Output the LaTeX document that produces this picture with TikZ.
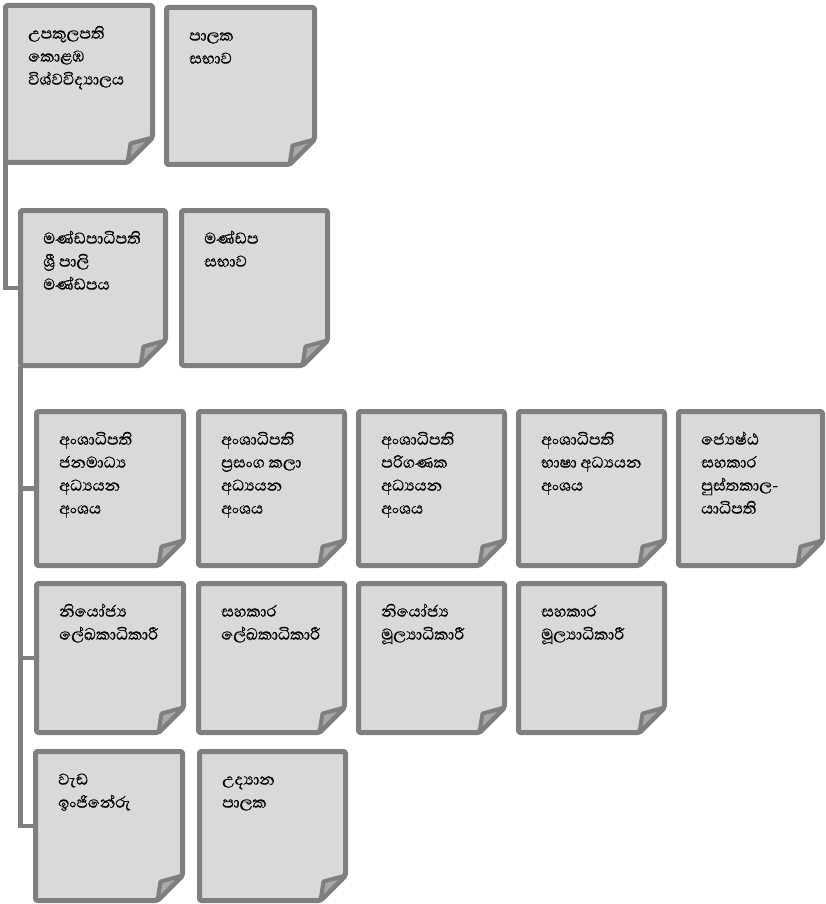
\documentclass[tikz,border=0pt]{standalone}
\usepackage{fontspec}
\newfontfamily\sinhalafont[Script=Sinhala, FakeBold=0.6]{Abhaya Libre}
\usetikzlibrary{backgrounds}
\definecolor{cardfill}{HTML}{D9D9D9}
\definecolor{cardedge}{HTML}{7F7F7F}
\definecolor{foldfill}{HTML}{A8A8A8}
\tikzset{
  cardnode/.style={inner sep=0pt, outer sep=0pt, anchor=north west, draw=none},
  cardshape/.style={fill=cardfill, draw=cardedge, line width=5pt, rounded corners=2pt, line join=round},
  foldshape/.style={fill=foldfill, draw=cardedge, line width=4pt, line join=round},
  cardtext/.style={inner sep=0pt, anchor=north west, align=left, font=\sinhalafont\fontsize{20}{23}\selectfont},
  conn/.style={draw=cardedge, line width=4.5pt},
}
\newcommand\card[6]{%
  \node[cardnode, minimum width=#4pt, minimum height=#5pt] (#1) at (#2,#3) {};
  \path[cardshape] (#1.north west) -- (#1.north east) -- ([yshift=25pt]#1.south east) -- ([xshift=-25pt]#1.south east) -- (#1.south west) -- cycle;
  \path[foldshape] ([yshift=25pt]#1.south east) -- ([shift={(-22pt,19pt)}]#1.south east) .. controls ([shift={(-24pt,10pt)}]#1.south east) .. ([xshift=-25pt]#1.south east) -- cycle;
  \node[cardtext] (#1-t) at ([shift={(22.5pt,-13pt)}]#1.north west) {\rule{0pt}{20pt}#6};
}
\begin{document}
\begin{tikzpicture}[x=1pt, y=-1pt]
\useasboundingbox (0,0) rectangle (826,904);
% row 0
\card{A}{5.5}{5.5}{147}{157}{උපකුලපති\\කොළඹ\\විශ්වවිද්^^^^200dයාලය}
\card{B}{166.5}{7.5}{148}{157}{පාලක\\සභාව}
% row 1
\card{C}{20.5}{210.5}{145}{155}{මණ්ඩපාධිපති\\ශ්^^^^200dරී පාලි\\මණ්ඩපය}
\card{D}{181.5}{210.5}{146}{155}{මණ්ඩප\\සභාව}
% row 2
\card{r2a}{36.5}{411.5}{147}{154}{අංශාධිපති\\ජනමාධ්^^^^200dය\\අධ්^^^^200dයයන\\අංශය}
\card{r2b}{198.5}{411.5}{146}{154}{අංශාධිපති\\ප්^^^^200dරසංග කලා\\අධ්^^^^200dයයන\\අංශය}
\card{r2c}{358.5}{411.5}{146}{154}{අංශාධිපති\\පරිගණක\\අධ්^^^^200dයයන\\අංශය}
\card{r2d}{518.5}{411.5}{146}{154}{අංශාධිපති\\භාෂා අධ්^^^^200dයයන\\අංශය}
\card{r2e}{678.5}{411.5}{144}{154}{ජ්^^^^200dයෙෂ්ඨ\\සහකාර\\පුස්තකාල-\\යාධිපති}
% row 3
\card{r3a}{36.5}{583.5}{147}{149}{නියෝජ්^^^^200dය\\ලේඛකාධිකාරී}
\card{r3b}{198.5}{583.5}{146}{149}{සහකාර\\ලේඛකාධිකාරී}
\card{r3c}{358.5}{583.5}{146}{149}{නියෝජ්^^^^200dය\\මූල්^^^^200dයාධිකාරී}
\card{r3d}{518.5}{583.5}{146}{149}{සහකාර\\මූල්^^^^200dයාධිකාරී}
% row 4
\card{r4a}{35.5}{751.5}{147}{149}{වැඩ\\ඉංජිනේරු}
\card{r4b}{199.5}{751.5}{146}{149}{උද්^^^^200dයාන\\පාලක}
% connectors
\begin{pgfonlayer}{background}
\draw[conn] (A.south west) |- (C.west);
\draw[conn] (C.south west) |- (r2a.west);
\draw[conn] (C.south west) |- (r3a.west);
\draw[conn] (C.south west) |- (r4a.west);
\end{pgfonlayer}
\end{tikzpicture}
\end{document}
